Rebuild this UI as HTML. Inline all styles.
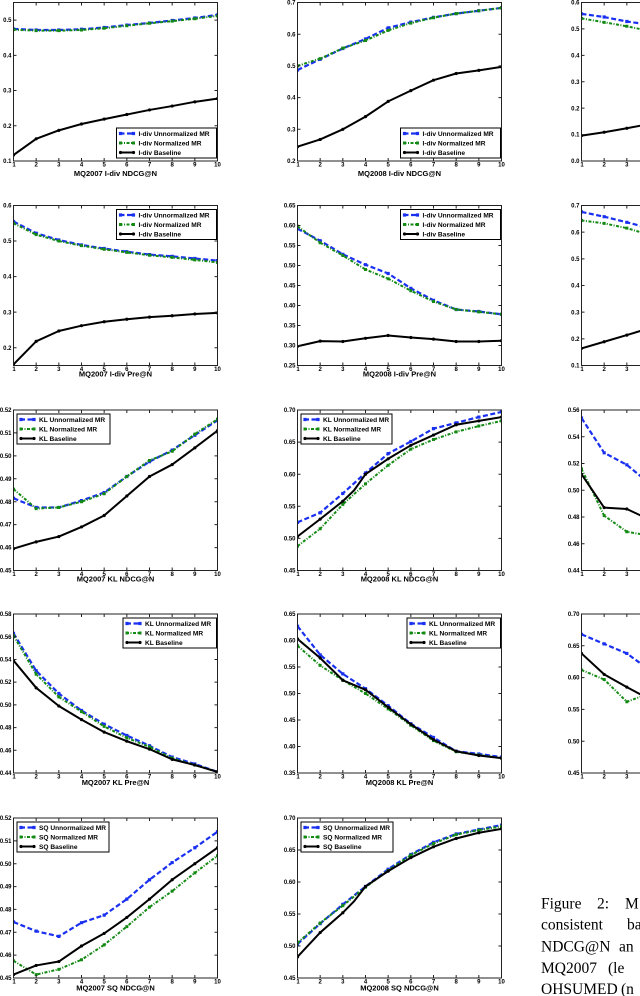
<!DOCTYPE html>
<html><head><meta charset="utf-8">
<style>
html,body{margin:0;padding:0;background:#fff;}
svg{display:block;}
.fr{fill:none;stroke:#222;stroke-width:1}
.tk line{stroke:#222;stroke-width:3}
.b,.g,.k,.bm,.gm,.km{fill:none;vector-effect:non-scaling-stroke}
.b{stroke:#1a30f0;stroke-width:2.2;stroke-dasharray:5 2.5}
.g{stroke:#138a13;stroke-width:2;stroke-dasharray:3 1.5 1 1.5}
.k{stroke:#000;stroke-width:2;stroke-linejoin:round}
.bm{stroke:#1a30f0;stroke-width:3.2;stroke-linecap:square}
.gm{stroke:#138a13;stroke-width:3;stroke-linecap:square}
.km{stroke:#000;stroke-width:3.2;stroke-linecap:round}
.lb{fill:#fff;stroke:#000;stroke-width:1}
text{font-family:"Liberation Sans",sans-serif;font-weight:bold;fill:#000}
.yl{font-size:6px;text-anchor:end}
.xl{font-size:6px;text-anchor:middle}
.al{font-size:7.5px;text-anchor:middle}
.lg{font-size:6.6px}
.cap{font-family:"Liberation Serif",serif;font-weight:normal;font-size:15.5px}
</style></head>
<body>
<svg width="640" height="996" viewBox="0 0 640 996" xmlns="http://www.w3.org/2000/svg">

<!-- ============ Chart A r1c1 ============ -->
<svg x="13.5" y="2.5" width="204" height="158.5" viewBox="1 -0.55 9 0.45" preserveAspectRatio="none">
<polyline class="b" points="1,-.475 2,-.472 3,-.472 4,-.474 5,-.479 6,-.486 7,-.492 8,-.499 9,-.506 10,-.515"/>
<path class="bm" d="M1 -.475h0M2 -.472h0M3 -.472h0M4 -.474h0M5 -.479h0M6 -.486h0M7 -.492h0M8 -.499h0M9 -.506h0M10 -.515h0"/>
<polyline class="g" points="1,-.473 2,-.470 3,-.470 4,-.472 5,-.477 6,-.484 7,-.491 8,-.497 9,-.504 10,-.512"/>
<path class="gm" d="M1 -.473h0M2 -.470h0M3 -.470h0M4 -.472h0M5 -.477h0M6 -.484h0M7 -.491h0M8 -.497h0M9 -.504h0M10 -.512h0"/>
<polyline class="k" points="1,-.117 2,-.163 3,-.187 4,-.205 5,-.219 6,-.232 7,-.245 8,-.256 9,-.268 10,-.277"/>
<path class="km" d="M1 -.117h0M2 -.163h0M3 -.187h0M4 -.205h0M5 -.219h0M6 -.232h0M7 -.245h0M8 -.256h0M9 -.268h0M10 -.277h0"/>
</svg>
<rect class="fr" x="13.5" y="2.5" width="204" height="158.5"/>
<g class="tk">
<line x1="13" y1="159.5" x2="218" y2="159.5" stroke-dasharray="1 21.667"/>
<line x1="13" y1="4" x2="218" y2="4" stroke-dasharray="1 21.667"/>
<line x1="15" y1="161.5" x2="15" y2="2" stroke-dasharray="1 34.22"/>
<line x1="216" y1="161.5" x2="216" y2="2" stroke-dasharray="1 34.22"/>
</g>
<text class="yl" x="11.5" y="163.1">0.1</text>
<text class="yl" x="11.5" y="127.9">0.2</text>
<text class="yl" x="11.5" y="92.7">0.3</text>
<text class="yl" x="11.5" y="57.4">0.4</text>
<text class="yl" x="11.5" y="22.2">0.5</text>
<g class="xl">
<text x="14" y="166.5">1</text><text x="36.2" y="166.5">2</text><text x="58.8" y="166.5">3</text><text x="81.5" y="166.5">4</text><text x="104.2" y="166.5">5</text><text x="126.8" y="166.5">6</text><text x="149.5" y="166.5">7</text><text x="172.2" y="166.5">8</text><text x="194.8" y="166.5">9</text><text x="217.5" y="166.5">10</text>
</g>
<text class="al" x="115.5" y="176">MQ2007 I-div NDCG@N</text>
<rect class="lb" x="116.5" y="128" width="100" height="30"/>
<line class="b" x1="119.5" y1="133.5" x2="134.5" y2="133.5"/><path class="bm" d="M120.5 133.5h0M133.5 133.5h0"/>
<line class="g" x1="119.5" y1="143" x2="134.5" y2="143"/><path class="gm" d="M120.5 143h0M133.5 143h0"/>
<line class="k" x1="119.5" y1="152.5" x2="134.5" y2="152.5"/><path class="km" d="M120.5 152.5h0M133.5 152.5h0"/>
<text class="lg" x="138.5" y="135.8">I-div Unnormalized MR</text>
<text class="lg" x="138.5" y="145.3">I-div Normalized MR</text>
<text class="lg" x="138.5" y="154.8">I-div Baseline</text>

<!-- ============ Chart B r1c2 ============ -->
<svg x="297.5" y="2.5" width="204" height="158.5" viewBox="1 -0.7 9 0.5" preserveAspectRatio="none">
<polyline class="b" points="1,-.487 2,-.521 3,-.555 4,-.585 5,-.620 6,-.638 7,-.653 8,-.665 9,-.674 10,-.683"/>
<path class="bm" d="M1 -.487h0M2 -.521h0M3 -.555h0M4 -.585h0M5 -.620h0M6 -.638h0M7 -.653h0M8 -.665h0M9 -.674h0M10 -.683h0"/>
<polyline class="g" points="1,-.500 2,-.523 3,-.556 4,-.580 5,-.612 6,-.635 7,-.652 8,-.665 9,-.674 10,-.683"/>
<path class="gm" d="M1 -.500h0M2 -.523h0M3 -.556h0M4 -.580h0M5 -.612h0M6 -.635h0M7 -.652h0M8 -.665h0M9 -.674h0M10 -.683h0"/>
<polyline class="k" points="1,-.245 2,-.268 3,-.300 4,-.340 5,-.388 6,-.422 7,-.455 8,-.476 9,-.486 10,-.497"/>
<path class="km" d="M1 -.245h0M2 -.268h0M3 -.300h0M4 -.340h0M5 -.388h0M6 -.422h0M7 -.455h0M8 -.476h0M9 -.486h0M10 -.497h0"/>
</svg>
<rect class="fr" x="297.5" y="2.5" width="204" height="158.5"/>
<g class="tk">
<line x1="297" y1="159.5" x2="502" y2="159.5" stroke-dasharray="1 21.667"/>
<line x1="297" y1="4" x2="502" y2="4" stroke-dasharray="1 21.667"/>
<line x1="299" y1="161.5" x2="299" y2="2" stroke-dasharray="1 30.7"/>
<line x1="500" y1="161.5" x2="500" y2="2" stroke-dasharray="1 30.7"/>
</g>
<text class="yl" x="295.5" y="163.1">0.2</text>
<text class="yl" x="295.5" y="131.4">0.3</text>
<text class="yl" x="295.5" y="99.7">0.4</text>
<text class="yl" x="295.5" y="68">0.5</text>
<text class="yl" x="295.5" y="36.3">0.6</text>
<text class="yl" x="295.5" y="4.6">0.7</text>
<g class="xl">
<text x="298" y="166.5">1</text><text x="320.2" y="166.5">2</text><text x="342.8" y="166.5">3</text><text x="365.5" y="166.5">4</text><text x="388.2" y="166.5">5</text><text x="410.8" y="166.5">6</text><text x="433.5" y="166.5">7</text><text x="456.2" y="166.5">8</text><text x="478.8" y="166.5">9</text><text x="501.5" y="166.5">10</text>
</g>
<text class="al" x="399.5" y="176">MQ2008 I-div NDCG@N</text>
<rect class="lb" x="400.5" y="128" width="100" height="30"/>
<line class="b" x1="403.5" y1="133.5" x2="418.5" y2="133.5"/><path class="bm" d="M404.5 133.5h0M417.5 133.5h0"/>
<line class="g" x1="403.5" y1="143" x2="418.5" y2="143"/><path class="gm" d="M404.5 143h0M417.5 143h0"/>
<line class="k" x1="403.5" y1="152.5" x2="418.5" y2="152.5"/><path class="km" d="M404.5 152.5h0M417.5 152.5h0"/>
<text class="lg" x="422.5" y="135.8">I-div Unnormalized MR</text>
<text class="lg" x="422.5" y="145.3">I-div Normalized MR</text>
<text class="lg" x="422.5" y="154.8">I-div Baseline</text>

<!-- ============ Chart C r1c3 ============ -->
<svg x="581.5" y="2.5" width="204" height="158.5" viewBox="1 -0.6 9 0.6" preserveAspectRatio="none">
<polyline class="b" points="1,-.557 2,-.545 3,-.528 4,-.516 5,-.505"/>
<path class="bm" d="M1 -.557h0M2 -.545h0M3 -.528h0M4 -.516h0M5 -.505h0"/>
<polyline class="g" points="1,-.540 2,-.525 3,-.510 4,-.492 5,-.48"/>
<path class="gm" d="M1 -.540h0M2 -.525h0M3 -.510h0M4 -.492h0M5 -.48h0"/>
<polyline class="k" points="1,-.096 2,-.109 3,-.124 4,-.14 5,-.152"/>
<path class="km" d="M1 -.096h0M2 -.109h0M3 -.124h0M4 -.14h0M5 -.152h0"/>
</svg>
<rect class="fr" x="581.5" y="2.5" width="204" height="158.5"/>
<g class="tk">
<line x1="581" y1="159.5" x2="786" y2="159.5" stroke-dasharray="1 21.667"/>
<line x1="581" y1="4" x2="786" y2="4" stroke-dasharray="1 21.667"/>
<line x1="583" y1="161.5" x2="583" y2="2" stroke-dasharray="1 25.42"/>
</g>
<text class="yl" x="579.5" y="163.1">0.0</text>
<text class="yl" x="579.5" y="136.7">0.1</text>
<text class="yl" x="579.5" y="110.3">0.2</text>
<text class="yl" x="579.5" y="83.9">0.3</text>
<text class="yl" x="579.5" y="57.4">0.4</text>
<text class="yl" x="579.5" y="31">0.5</text>
<text class="yl" x="579.5" y="4.6">0.6</text>
<g class="xl"><text x="582" y="166.5">1</text><text x="604.2" y="166.5">2</text><text x="626.8" y="166.5">3</text></g>

<!-- ============ Chart D r2c1 ============ -->
<svg x="13.5" y="205.5" width="204" height="160" viewBox="1 -0.6 9 0.45" preserveAspectRatio="none">
<polyline class="b" points="1,-.555 2,-.522 3,-.503 4,-.489 5,-.479 6,-.470 7,-.462 8,-.457 9,-.451 10,-.445"/>
<path class="bm" d="M1 -.555h0M2 -.522h0M3 -.503h0M4 -.489h0M5 -.479h0M6 -.470h0M7 -.462h0M8 -.457h0M9 -.451h0M10 -.445h0"/>
<polyline class="g" points="1,-.550 2,-.518 3,-.500 4,-.487 5,-.477 6,-.468 7,-.460 8,-.454 9,-.447 10,-.440"/>
<path class="gm" d="M1 -.550h0M2 -.518h0M3 -.500h0M4 -.487h0M5 -.477h0M6 -.468h0M7 -.460h0M8 -.454h0M9 -.447h0M10 -.440h0"/>
<polyline class="k" points="1,-.153 2,-.218 3,-.247 4,-.262 5,-.273 6,-.280 7,-.286 8,-.290 9,-.295 10,-.298"/>
<path class="km" d="M1 -.153h0M2 -.218h0M3 -.247h0M4 -.262h0M5 -.273h0M6 -.280h0M7 -.286h0M8 -.290h0M9 -.295h0M10 -.298h0"/>
</svg>
<rect class="fr" x="13.5" y="205.5" width="204" height="160"/>
<g class="tk">
<line x1="13" y1="364" x2="218" y2="364" stroke-dasharray="1 21.667"/>
<line x1="13" y1="207" x2="218" y2="207" stroke-dasharray="1 21.667"/>
<line x1="15" y1="205" x2="15" y2="366" stroke-dasharray="1 34.56"/>
<line x1="216" y1="205" x2="216" y2="366" stroke-dasharray="1 34.56"/>
</g>
<text class="yl" x="11.5" y="207.6">0.6</text>
<text class="yl" x="11.5" y="243.2">0.5</text>
<text class="yl" x="11.5" y="278.7">0.4</text>
<text class="yl" x="11.5" y="314.3">0.3</text>
<text class="yl" x="11.5" y="349.8">0.2</text>
<g class="xl">
<text x="14" y="371">1</text><text x="36.2" y="371">2</text><text x="58.8" y="371">3</text><text x="81.5" y="371">4</text><text x="104.2" y="371">5</text><text x="126.8" y="371">6</text><text x="149.5" y="371">7</text><text x="172.2" y="371">8</text><text x="194.8" y="371">9</text><text x="217.5" y="371">10</text>
</g>
<text class="al" x="115.5" y="376.7">MQ2007 I-div Pre@N</text>
<rect class="lb" x="116.5" y="209.5" width="100" height="30"/>
<line class="b" x1="119.5" y1="215" x2="134.5" y2="215"/><path class="bm" d="M120.5 215h0M133.5 215h0"/>
<line class="g" x1="119.5" y1="224.5" x2="134.5" y2="224.5"/><path class="gm" d="M120.5 224.5h0M133.5 224.5h0"/>
<line class="k" x1="119.5" y1="234" x2="134.5" y2="234"/><path class="km" d="M120.5 234h0M133.5 234h0"/>
<text class="lg" x="138.5" y="217.3">I-div Unnormalized MR</text>
<text class="lg" x="138.5" y="226.8">I-div Normalized MR</text>
<text class="lg" x="138.5" y="236.3">I-div Baseline</text>

<!-- ============ Chart E r2c2 ============ -->
<svg x="297.5" y="205.5" width="204" height="160" viewBox="1 -0.65 9 0.4" preserveAspectRatio="none">
<polyline class="b" points="1,-.592 2,-.562 3,-.528 4,-.502 5,-.480 6,-.443 7,-.413 8,-.390 9,-.385 10,-.378"/>
<path class="bm" d="M1 -.592h0M2 -.562h0M3 -.528h0M4 -.502h0M5 -.480h0M6 -.443h0M7 -.413h0M8 -.390h0M9 -.385h0M10 -.378h0"/>
<polyline class="g" points="1,-.598 2,-.557 3,-.525 4,-.490 5,-.467 6,-.437 7,-.410 8,-.390 9,-.384 10,-.378"/>
<path class="gm" d="M1 -.598h0M2 -.557h0M3 -.525h0M4 -.490h0M5 -.467h0M6 -.437h0M7 -.410h0M8 -.390h0M9 -.384h0M10 -.378h0"/>
<polyline class="k" points="1,-.298 2,-.311 3,-.310 4,-.318 5,-.325 6,-.320 7,-.316 8,-.310 9,-.310 10,-.312"/>
<path class="km" d="M1 -.298h0M2 -.311h0M3 -.310h0M4 -.318h0M5 -.325h0M6 -.320h0M7 -.316h0M8 -.310h0M9 -.310h0M10 -.312h0"/>
</svg>
<rect class="fr" x="297.5" y="205.5" width="204" height="160"/>
<g class="tk">
<line x1="297" y1="364" x2="502" y2="364" stroke-dasharray="1 21.667"/>
<line x1="297" y1="207" x2="502" y2="207" stroke-dasharray="1 21.667"/>
<line x1="299" y1="205" x2="299" y2="366" stroke-dasharray="1 19"/>
<line x1="500" y1="205" x2="500" y2="366" stroke-dasharray="1 19"/>
</g>
<text class="yl" x="295.5" y="207.6">0.65</text>
<text class="yl" x="295.5" y="227.6">0.60</text>
<text class="yl" x="295.5" y="247.6">0.55</text>
<text class="yl" x="295.5" y="267.6">0.50</text>
<text class="yl" x="295.5" y="287.6">0.45</text>
<text class="yl" x="295.5" y="307.6">0.40</text>
<text class="yl" x="295.5" y="327.6">0.35</text>
<text class="yl" x="295.5" y="347.6">0.30</text>
<text class="yl" x="295.5" y="367.6">0.25</text>
<g class="xl">
<text x="298" y="371">1</text><text x="320.2" y="371">2</text><text x="342.8" y="371">3</text><text x="365.5" y="371">4</text><text x="388.2" y="371">5</text><text x="410.8" y="371">6</text><text x="433.5" y="371">7</text><text x="456.2" y="371">8</text><text x="478.8" y="371">9</text><text x="501.5" y="371">10</text>
</g>
<text class="al" x="399.5" y="376.7">MQ2008 I-div Pre@N</text>
<rect class="lb" x="400.5" y="209.5" width="100" height="30"/>
<line class="b" x1="403.5" y1="215" x2="418.5" y2="215"/><path class="bm" d="M404.5 215h0M417.5 215h0"/>
<line class="g" x1="403.5" y1="224.5" x2="418.5" y2="224.5"/><path class="gm" d="M404.5 224.5h0M417.5 224.5h0"/>
<line class="k" x1="403.5" y1="234" x2="418.5" y2="234"/><path class="km" d="M404.5 234h0M417.5 234h0"/>
<text class="lg" x="422.5" y="217.3">I-div Unnormalized MR</text>
<text class="lg" x="422.5" y="226.8">I-div Normalized MR</text>
<text class="lg" x="422.5" y="236.3">I-div Baseline</text>

<!-- ============ Chart F r2c3 ============ -->
<svg x="581.5" y="205.5" width="204" height="160" viewBox="1 -0.7 9 0.6" preserveAspectRatio="none">
<polyline class="b" points="1,-.676 2,-.658 3,-.637 4,-.615 5,-.60"/>
<path class="bm" d="M1 -.676h0M2 -.658h0M3 -.637h0M4 -.615h0M5 -.60h0"/>
<polyline class="g" points="1,-.644 2,-.633 3,-.615 4,-.59 5,-.57"/>
<path class="gm" d="M1 -.644h0M2 -.633h0M3 -.615h0M4 -.59h0M5 -.57h0"/>
<polyline class="k" points="1,-.164 2,-.189 3,-.214 4,-.24 5,-.26"/>
<path class="km" d="M1 -.164h0M2 -.189h0M3 -.214h0M4 -.24h0M5 -.26h0"/>
</svg>
<rect class="fr" x="581.5" y="205.5" width="204" height="160"/>
<g class="tk">
<line x1="581" y1="364" x2="786" y2="364" stroke-dasharray="1 21.667"/>
<line x1="581" y1="207" x2="786" y2="207" stroke-dasharray="1 21.667"/>
<line x1="583" y1="205" x2="583" y2="366" stroke-dasharray="1 25.67"/>
</g>
<text class="yl" x="579.5" y="207.6">0.7</text>
<text class="yl" x="579.5" y="234.3">0.6</text>
<text class="yl" x="579.5" y="260.9">0.5</text>
<text class="yl" x="579.5" y="287.6">0.4</text>
<text class="yl" x="579.5" y="314.3">0.3</text>
<text class="yl" x="579.5" y="340.9">0.2</text>
<text class="yl" x="579.5" y="367.6">0.1</text>
<g class="xl"><text x="582" y="371">1</text><text x="604.2" y="371">2</text><text x="626.8" y="371">3</text></g>

<!-- ============ Chart G r3c1 ============ -->
<svg x="13.5" y="410" width="204" height="160.5" viewBox="1 -0.52 9 0.07" preserveAspectRatio="none">
<polyline class="b" points="1,-.4815 2,-.4775 3,-.4775 4,-.4805 5,-.4840 6,-.4910 7,-.4975 8,-.5025 9,-.5090 10,-.5155"/>
<path class="bm" d="M1 -.4815h0M2 -.4775h0M3 -.4775h0M4 -.4805h0M5 -.4840h0M6 -.4910h0M7 -.4975h0M8 -.5025h0M9 -.5090h0M10 -.5155h0"/>
<polyline class="g" points="1,-.4855 2,-.4770 3,-.4775 4,-.4800 5,-.4835 6,-.4910 7,-.4980 8,-.5020 9,-.5095 10,-.5160"/>
<path class="gm" d="M1 -.4855h0M2 -.4770h0M3 -.4775h0M4 -.4800h0M5 -.4835h0M6 -.4910h0M7 -.4980h0M8 -.5020h0M9 -.5095h0M10 -.5160h0"/>
<polyline class="k" points="1,-.4595 2,-.4625 3,-.4648 4,-.4690 5,-.4740 6,-.4825 7,-.4910 8,-.4962 9,-.5035 10,-.5110"/>
<path class="km" d="M1 -.4595h0M2 -.4625h0M3 -.4648h0M4 -.4690h0M5 -.4740h0M6 -.4825h0M7 -.4910h0M8 -.4962h0M9 -.5035h0M10 -.5110h0"/>
</svg>
<rect class="fr" x="13.5" y="410" width="204" height="160.5"/>
<g class="tk">
<line x1="13" y1="569" x2="218" y2="569" stroke-dasharray="1 21.667"/>
<line x1="13" y1="411.5" x2="218" y2="411.5" stroke-dasharray="1 21.667"/>
<line x1="15" y1="571" x2="15" y2="409.5" stroke-dasharray="1 21.93"/>
<line x1="216" y1="571" x2="216" y2="409.5" stroke-dasharray="1 21.93"/>
</g>
<text class="yl" x="11.5" y="412.1">0.52</text>
<text class="yl" x="11.5" y="435">0.51</text>
<text class="yl" x="11.5" y="458">0.50</text>
<text class="yl" x="11.5" y="480.9">0.49</text>
<text class="yl" x="11.5" y="503.8">0.48</text>
<text class="yl" x="11.5" y="526.7">0.47</text>
<text class="yl" x="11.5" y="549.7">0.46</text>
<text class="yl" x="11.5" y="572.6">0.45</text>
<g class="xl">
<text x="14" y="576">1</text><text x="36.2" y="576">2</text><text x="58.8" y="576">3</text><text x="81.5" y="576">4</text><text x="104.2" y="576">5</text><text x="126.8" y="576">6</text><text x="149.5" y="576">7</text><text x="172.2" y="576">8</text><text x="194.8" y="576">9</text><text x="217.5" y="576">10</text>
</g>
<text class="al" x="115.5" y="581.7">MQ2007 KL NDCG@N</text>
<rect class="lb" x="17" y="414" width="93" height="30"/>
<line class="b" x1="20" y1="419.5" x2="35" y2="419.5"/><path class="bm" d="M21 419.5h0M34 419.5h0"/>
<line class="g" x1="20" y1="429" x2="35" y2="429"/><path class="gm" d="M21 429h0M34 429h0"/>
<line class="k" x1="20" y1="438.5" x2="35" y2="438.5"/><path class="km" d="M21 438.5h0M34 438.5h0"/>
<text class="lg" x="39" y="421.8">KL Unnormalized MR</text>
<text class="lg" x="39" y="431.3">KL Normalized MR</text>
<text class="lg" x="39" y="440.8">KL Baseline</text>

<!-- ============ Chart H r3c2 ============ -->
<svg x="297.5" y="410" width="204" height="160.5" viewBox="1 -0.7 9 0.25" preserveAspectRatio="none">
<polyline class="b" points="1,-.525 2,-.540 3,-.570 4,-.602 5,-.632 6,-.651 7,-.671 8,-.680 9,-.689 10,-.697"/>
<path class="bm" d="M1 -.525h0M2 -.540h0M3 -.570h0M4 -.602h0M5 -.632h0M6 -.651h0M7 -.671h0M8 -.680h0M9 -.689h0M10 -.697h0"/>
<polyline class="g" points="1,-.488 2,-.515 3,-.553 4,-.585 5,-.614 6,-.639 7,-.654 8,-.666 9,-.675 10,-.683"/>
<path class="gm" d="M1 -.488h0M2 -.515h0M3 -.553h0M4 -.585h0M5 -.614h0M6 -.639h0M7 -.654h0M8 -.666h0M9 -.675h0M10 -.683h0"/>
<polyline class="k" points="1,-.503 2,-.530 3,-.558 3.5,-.575 4,-.600 5,-.624 6,-.645 7,-.661 8,-.677 9,-.683 10,-.689"/>
<path class="km" d="M1 -.503h0M2 -.530h0M3 -.558h0M4 -.600h0M5 -.624h0M6 -.645h0M7 -.661h0M8 -.677h0M9 -.683h0M10 -.689h0"/>
</svg>
<rect class="fr" x="297.5" y="410" width="204" height="160.5"/>
<g class="tk">
<line x1="297" y1="569" x2="502" y2="569" stroke-dasharray="1 21.667"/>
<line x1="297" y1="411.5" x2="502" y2="411.5" stroke-dasharray="1 21.667"/>
<line x1="299" y1="571" x2="299" y2="409.5" stroke-dasharray="1 31.1"/>
<line x1="500" y1="571" x2="500" y2="409.5" stroke-dasharray="1 31.1"/>
</g>
<text class="yl" x="295.5" y="412.1">0.70</text>
<text class="yl" x="295.5" y="444.2">0.65</text>
<text class="yl" x="295.5" y="476.3">0.60</text>
<text class="yl" x="295.5" y="508.4">0.55</text>
<text class="yl" x="295.5" y="540.5">0.50</text>
<text class="yl" x="295.5" y="572.6">0.45</text>
<g class="xl">
<text x="298" y="576">1</text><text x="320.2" y="576">2</text><text x="342.8" y="576">3</text><text x="365.5" y="576">4</text><text x="388.2" y="576">5</text><text x="410.8" y="576">6</text><text x="433.5" y="576">7</text><text x="456.2" y="576">8</text><text x="478.8" y="576">9</text><text x="501.5" y="576">10</text>
</g>
<text class="al" x="399.5" y="581.7">MQ2008 KL NDCG@N</text>
<rect class="lb" x="301" y="414" width="91" height="30"/>
<line class="b" x1="304" y1="419.5" x2="319" y2="419.5"/><path class="bm" d="M305 419.5h0M318 419.5h0"/>
<line class="g" x1="304" y1="429" x2="319" y2="429"/><path class="gm" d="M305 429h0M318 429h0"/>
<line class="k" x1="304" y1="438.5" x2="319" y2="438.5"/><path class="km" d="M305 438.5h0M318 438.5h0"/>
<text class="lg" x="323" y="421.8">KL Unnormalized MR</text>
<text class="lg" x="323" y="431.3">KL Normalized MR</text>
<text class="lg" x="323" y="440.8">KL Baseline</text>

<!-- ============ Chart I r3c3 ============ -->
<svg x="581.5" y="410" width="204" height="160.5" viewBox="1 -0.56 9 0.12" preserveAspectRatio="none">
<polyline class="b" points="1,-.554 2,-.528 3,-.519 4,-.505 5,-.49"/>
<path class="bm" d="M1 -.554h0M2 -.528h0M3 -.519h0M4 -.505h0M5 -.49h0"/>
<polyline class="g" points="1,-.516 2,-.481 3,-.469 4,-.466 5,-.46"/>
<path class="gm" d="M1 -.516h0M2 -.481h0M3 -.469h0M4 -.466h0M5 -.46h0"/>
<polyline class="k" points="1,-.512 2,-.487 3,-.486 4,-.478 5,-.47"/>
<path class="km" d="M1 -.512h0M2 -.487h0M3 -.486h0M4 -.478h0M5 -.47h0"/>
</svg>
<rect class="fr" x="581.5" y="410" width="204" height="160.5"/>
<g class="tk">
<line x1="581" y1="569" x2="786" y2="569" stroke-dasharray="1 21.667"/>
<line x1="581" y1="411.5" x2="786" y2="411.5" stroke-dasharray="1 21.667"/>
<line x1="583" y1="571" x2="583" y2="409.5" stroke-dasharray="1 25.75"/>
</g>
<text class="yl" x="579.5" y="412.1">0.56</text>
<text class="yl" x="579.5" y="438.9">0.54</text>
<text class="yl" x="579.5" y="465.6">0.52</text>
<text class="yl" x="579.5" y="492.4">0.50</text>
<text class="yl" x="579.5" y="519.1">0.48</text>
<text class="yl" x="579.5" y="545.9">0.46</text>
<text class="yl" x="579.5" y="572.6">0.44</text>
<g class="xl"><text x="582" y="576">1</text><text x="604.2" y="576">2</text><text x="626.8" y="576">3</text></g>

<!-- ============ Chart J r4c1 ============ -->
<svg x="13.5" y="614" width="204" height="159" viewBox="1 -0.58 9 0.14" preserveAspectRatio="none">
<polyline class="b" points="1,-.563 2,-.530 3,-.510 4,-.495 5,-.483 6,-.473 7,-.464 8,-.454 9,-.448 10,-.441"/>
<path class="bm" d="M1 -.563h0M2 -.530h0M3 -.510h0M4 -.495h0M5 -.483h0M6 -.473h0M7 -.464h0M8 -.454h0M9 -.448h0M10 -.441h0"/>
<polyline class="g" points="1,-.561 2,-.527 3,-.507 4,-.494 5,-.481 6,-.471 7,-.463 8,-.453 9,-.447 10,-.441"/>
<path class="gm" d="M1 -.561h0M2 -.527h0M3 -.507h0M4 -.494h0M5 -.481h0M6 -.471h0M7 -.463h0M8 -.453h0M9 -.447h0M10 -.441h0"/>
<polyline class="k" points="1,-.539 2,-.515 3,-.499 4,-.487 5,-.476 6,-.468 7,-.461 8,-.452 9,-.447 10,-.441"/>
<path class="km" d="M1 -.539h0M2 -.515h0M3 -.499h0M4 -.487h0M5 -.476h0M6 -.468h0M7 -.461h0M8 -.452h0M9 -.447h0M10 -.441h0"/>
</svg>
<rect class="fr" x="13.5" y="614" width="204" height="159"/>
<g class="tk">
<line x1="13" y1="771.5" x2="218" y2="771.5" stroke-dasharray="1 21.667"/>
<line x1="13" y1="615.5" x2="218" y2="615.5" stroke-dasharray="1 21.667"/>
<line x1="15" y1="773.5" x2="15" y2="613.5" stroke-dasharray="1 21.71"/>
<line x1="216" y1="773.5" x2="216" y2="613.5" stroke-dasharray="1 21.71"/>
</g>
<text class="yl" x="11.5" y="616.1">0.58</text>
<text class="yl" x="11.5" y="638.8">0.56</text>
<text class="yl" x="11.5" y="661.5">0.54</text>
<text class="yl" x="11.5" y="684.2">0.52</text>
<text class="yl" x="11.5" y="707">0.50</text>
<text class="yl" x="11.5" y="729.7">0.48</text>
<text class="yl" x="11.5" y="752.4">0.46</text>
<text class="yl" x="11.5" y="775.1">0.44</text>
<g class="xl">
<text x="14" y="778.5">1</text><text x="36.2" y="778.5">2</text><text x="58.8" y="778.5">3</text><text x="81.5" y="778.5">4</text><text x="104.2" y="778.5">5</text><text x="126.8" y="778.5">6</text><text x="149.5" y="778.5">7</text><text x="172.2" y="778.5">8</text><text x="194.8" y="778.5">9</text><text x="217.5" y="778.5">10</text>
</g>
<text class="al" x="115.5" y="784.8">MQ2007 KL Pre@N</text>
<rect class="lb" x="123" y="618" width="93.5" height="30"/>
<line class="b" x1="126" y1="623.5" x2="141" y2="623.5"/><path class="bm" d="M127 623.5h0M140 623.5h0"/>
<line class="g" x1="126" y1="633" x2="141" y2="633"/><path class="gm" d="M127 633h0M140 633h0"/>
<line class="k" x1="126" y1="642.5" x2="141" y2="642.5"/><path class="km" d="M127 642.5h0M140 642.5h0"/>
<text class="lg" x="145" y="625.8">KL Unnormalized MR</text>
<text class="lg" x="145" y="635.3">KL Normalized MR</text>
<text class="lg" x="145" y="644.8">KL Baseline</text>

<!-- ============ Chart K r4c2 ============ -->
<svg x="297.5" y="614" width="204" height="159" viewBox="1 -0.65 9 0.3" preserveAspectRatio="none">
<polyline class="b" points="1,-.627 2,-.573 3,-.537 4,-.509 5,-.477 6,-.443 7,-.417 8,-.391 9,-.386 10,-.380"/>
<path class="bm" d="M1 -.627h0M2 -.573h0M3 -.537h0M4 -.509h0M5 -.477h0M6 -.443h0M7 -.417h0M8 -.391h0M9 -.386h0M10 -.380h0"/>
<polyline class="g" points="1,-.590 2,-.553 3,-.525 4,-.500 5,-.471 6,-.440 7,-.411 8,-.390 9,-.384 10,-.378"/>
<path class="gm" d="M1 -.590h0M2 -.553h0M3 -.525h0M4 -.500h0M5 -.471h0M6 -.440h0M7 -.411h0M8 -.390h0M9 -.384h0M10 -.378h0"/>
<polyline class="k" points="1,-.603 2,-.567 3,-.525 4,-.507 5,-.474 6,-.442 7,-.413 8,-.391 9,-.383 10,-.378"/>
<path class="km" d="M1 -.603h0M2 -.567h0M3 -.525h0M4 -.507h0M5 -.474h0M6 -.442h0M7 -.413h0M8 -.391h0M9 -.383h0M10 -.378h0"/>
</svg>
<rect class="fr" x="297.5" y="614" width="204" height="159"/>
<g class="tk">
<line x1="297" y1="771.5" x2="502" y2="771.5" stroke-dasharray="1 21.667"/>
<line x1="297" y1="615.5" x2="502" y2="615.5" stroke-dasharray="1 21.667"/>
<line x1="299" y1="773.5" x2="299" y2="613.5" stroke-dasharray="1 25.5"/>
<line x1="500" y1="773.5" x2="500" y2="613.5" stroke-dasharray="1 25.5"/>
</g>
<text class="yl" x="295.5" y="616.1">0.65</text>
<text class="yl" x="295.5" y="642.6">0.60</text>
<text class="yl" x="295.5" y="669.1">0.55</text>
<text class="yl" x="295.5" y="695.6">0.50</text>
<text class="yl" x="295.5" y="722.1">0.45</text>
<text class="yl" x="295.5" y="748.6">0.40</text>
<text class="yl" x="295.5" y="775.1">0.35</text>
<g class="xl">
<text x="298" y="778.5">1</text><text x="320.2" y="778.5">2</text><text x="342.8" y="778.5">3</text><text x="365.5" y="778.5">4</text><text x="388.2" y="778.5">5</text><text x="410.8" y="778.5">6</text><text x="433.5" y="778.5">7</text><text x="456.2" y="778.5">8</text><text x="478.8" y="778.5">9</text><text x="501.5" y="778.5">10</text>
</g>
<text class="al" x="399.5" y="784.8">MQ2008 KL Pre@N</text>
<rect class="lb" x="407" y="618" width="93.5" height="30"/>
<line class="b" x1="410" y1="623.5" x2="425" y2="623.5"/><path class="bm" d="M411 623.5h0M424 623.5h0"/>
<line class="g" x1="410" y1="633" x2="425" y2="633"/><path class="gm" d="M411 633h0M424 633h0"/>
<line class="k" x1="410" y1="642.5" x2="425" y2="642.5"/><path class="km" d="M411 642.5h0M424 642.5h0"/>
<text class="lg" x="429" y="625.8">KL Unnormalized MR</text>
<text class="lg" x="429" y="635.3">KL Normalized MR</text>
<text class="lg" x="429" y="644.8">KL Baseline</text>

<!-- ============ Chart L r4c3 ============ -->
<svg x="581.5" y="614" width="204" height="159" viewBox="1 -0.7 9 0.25" preserveAspectRatio="none">
<polyline class="b" points="1,-.668 2,-.653 3,-.638 4,-.612 5,-.59"/>
<path class="bm" d="M1 -.668h0M2 -.653h0M3 -.638h0M4 -.612h0M5 -.59h0"/>
<polyline class="g" points="1,-.612 2,-.597 3,-.562 4,-.575 5,-.57"/>
<path class="gm" d="M1 -.612h0M2 -.597h0M3 -.562h0M4 -.575h0M5 -.57h0"/>
<polyline class="k" points="1,-.638 2,-.605 3,-.585 4,-.566 5,-.55"/>
<path class="km" d="M1 -.638h0M2 -.605h0M3 -.585h0M4 -.566h0M5 -.55h0"/>
</svg>
<rect class="fr" x="581.5" y="614" width="204" height="159"/>
<g class="tk">
<line x1="581" y1="771.5" x2="786" y2="771.5" stroke-dasharray="1 21.667"/>
<line x1="581" y1="615.5" x2="786" y2="615.5" stroke-dasharray="1 21.667"/>
<line x1="583" y1="773.5" x2="583" y2="613.5" stroke-dasharray="1 30.8"/>
</g>
<text class="yl" x="579.5" y="616.1">0.70</text>
<text class="yl" x="579.5" y="647.9">0.65</text>
<text class="yl" x="579.5" y="679.7">0.60</text>
<text class="yl" x="579.5" y="711.5">0.55</text>
<text class="yl" x="579.5" y="743.3">0.50</text>
<text class="yl" x="579.5" y="775.1">0.45</text>
<g class="xl"><text x="582" y="778.5">1</text><text x="604.2" y="778.5">2</text><text x="626.8" y="778.5">3</text></g>

<!-- ============ Chart M r5c1 ============ -->
<svg x="13.5" y="818" width="204" height="160" viewBox="1 -0.52 9 0.07" preserveAspectRatio="none">
<polyline class="b" points="1,-.4745 2,-.4705 3,-.4682 4,-.4742 5,-.4775 6,-.4845 7,-.4930 8,-.5005 9,-.5070 10,-.5140"/>
<path class="bm" d="M1 -.4745h0M2 -.4705h0M3 -.4682h0M4 -.4742h0M5 -.4775h0M6 -.4845h0M7 -.4930h0M8 -.5005h0M9 -.5070h0M10 -.5140h0"/>
<polyline class="g" points="1,-.4575 2,-.4515 3,-.4538 4,-.4580 5,-.4645 6,-.4725 7,-.4810 8,-.4880 9,-.4960 10,-.5035"/>
<path class="gm" d="M1 -.4575h0M2 -.4515h0M3 -.4538h0M4 -.4580h0M5 -.4645h0M6 -.4725h0M7 -.4810h0M8 -.4880h0M9 -.4960h0M10 -.5035h0"/>
<polyline class="k" points="1,-.4515 2,-.4555 3,-.4572 4,-.4640 5,-.4695 6,-.4765 7,-.4845 8,-.4930 9,-.5000 10,-.5070"/>
<path class="km" d="M1 -.4515h0M2 -.4555h0M3 -.4572h0M4 -.4640h0M5 -.4695h0M6 -.4765h0M7 -.4845h0M8 -.4930h0M9 -.5000h0M10 -.5070h0"/>
</svg>
<rect class="fr" x="13.5" y="818" width="204" height="160"/>
<g class="tk">
<line x1="13" y1="976.5" x2="218" y2="976.5" stroke-dasharray="1 21.667"/>
<line x1="13" y1="819.5" x2="218" y2="819.5" stroke-dasharray="1 21.667"/>
<line x1="15" y1="978.5" x2="15" y2="817.5" stroke-dasharray="1 21.857"/>
<line x1="216" y1="978.5" x2="216" y2="817.5" stroke-dasharray="1 21.857"/>
</g>
<text class="yl" x="11.5" y="820.1">0.52</text>
<text class="yl" x="11.5" y="843">0.51</text>
<text class="yl" x="11.5" y="865.8">0.50</text>
<text class="yl" x="11.5" y="888.7">0.49</text>
<text class="yl" x="11.5" y="911.5">0.48</text>
<text class="yl" x="11.5" y="934.4">0.47</text>
<text class="yl" x="11.5" y="957.2">0.46</text>
<text class="yl" x="11.5" y="980.1">0.45</text>
<g class="xl">
<text x="14" y="983.5">1</text><text x="36.2" y="983.5">2</text><text x="58.8" y="983.5">3</text><text x="81.5" y="983.5">4</text><text x="104.2" y="983.5">5</text><text x="126.8" y="983.5">6</text><text x="149.5" y="983.5">7</text><text x="172.2" y="983.5">8</text><text x="194.8" y="983.5">9</text><text x="217.5" y="983.5">10</text>
</g>
<text class="al" x="115.5" y="990.5">MQ2007 SQ NDCG@N</text>
<rect class="lb" x="17" y="822" width="92" height="30"/>
<line class="b" x1="20" y1="827.5" x2="35" y2="827.5"/><path class="bm" d="M21 827.5h0M34 827.5h0"/>
<line class="g" x1="20" y1="837" x2="35" y2="837"/><path class="gm" d="M21 837h0M34 837h0"/>
<line class="k" x1="20" y1="846.5" x2="35" y2="846.5"/><path class="km" d="M21 846.5h0M34 846.5h0"/>
<text class="lg" x="39" y="829.8">SQ Unnormalized MR</text>
<text class="lg" x="39" y="839.3">SQ Normalized MR</text>
<text class="lg" x="39" y="848.8">SQ Baseline</text>

<!-- ============ Chart N r5c2 ============ -->
<svg x="297.5" y="818" width="204" height="160" viewBox="1 -0.7 9 0.25" preserveAspectRatio="none">
<polyline class="b" points="1,-.503 2,-.535 3,-.565 4,-.593 5,-.620 6,-.643 7,-.662 8,-.675 9,-.682 10,-.689"/>
<path class="bm" d="M1 -.503h0M2 -.535h0M3 -.565h0M4 -.593h0M5 -.620h0M6 -.643h0M7 -.662h0M8 -.675h0M9 -.682h0M10 -.689h0"/>
<polyline class="g" points="1,-.505 2,-.536 3,-.563 4,-.592 5,-.618 6,-.642 7,-.660 8,-.674 9,-.681 10,-.687"/>
<path class="gm" d="M1 -.505h0M2 -.536h0M3 -.563h0M4 -.592h0M5 -.618h0M6 -.642h0M7 -.660h0M8 -.674h0M9 -.681h0M10 -.687h0"/>
<polyline class="k" points="1,-.483 2,-.521 3,-.552 3.5,-.570 4,-.593 5,-.617 6,-.638 7,-.655 8,-.668 9,-.677 10,-.683"/>
<path class="km" d="M1 -.483h0M2 -.521h0M3 -.552h0M4 -.593h0M5 -.617h0M6 -.638h0M7 -.655h0M8 -.668h0M9 -.677h0M10 -.683h0"/>
</svg>
<rect class="fr" x="297.5" y="818" width="204" height="160"/>
<g class="tk">
<line x1="297" y1="976.5" x2="502" y2="976.5" stroke-dasharray="1 21.667"/>
<line x1="297" y1="819.5" x2="502" y2="819.5" stroke-dasharray="1 21.667"/>
<line x1="299" y1="978.5" x2="299" y2="817.5" stroke-dasharray="1 31"/>
<line x1="500" y1="978.5" x2="500" y2="817.5" stroke-dasharray="1 31"/>
</g>
<text class="yl" x="295.5" y="820.1">0.70</text>
<text class="yl" x="295.5" y="852.1">0.65</text>
<text class="yl" x="295.5" y="884.1">0.60</text>
<text class="yl" x="295.5" y="916.1">0.55</text>
<text class="yl" x="295.5" y="948.1">0.50</text>
<text class="yl" x="295.5" y="980.1">0.45</text>
<g class="xl">
<text x="298" y="983.5">1</text><text x="320.2" y="983.5">2</text><text x="342.8" y="983.5">3</text><text x="365.5" y="983.5">4</text><text x="388.2" y="983.5">5</text><text x="410.8" y="983.5">6</text><text x="433.5" y="983.5">7</text><text x="456.2" y="983.5">8</text><text x="478.8" y="983.5">9</text><text x="501.5" y="983.5">10</text>
</g>
<text class="al" x="399.5" y="990.5">MQ2008 SQ NDCG@N</text>
<rect class="lb" x="301" y="822" width="92" height="30"/>
<line class="b" x1="304" y1="827.5" x2="319" y2="827.5"/><path class="bm" d="M305 827.5h0M318 827.5h0"/>
<line class="g" x1="304" y1="837" x2="319" y2="837"/><path class="gm" d="M305 837h0M318 837h0"/>
<line class="k" x1="304" y1="846.5" x2="319" y2="846.5"/><path class="km" d="M305 846.5h0M318 846.5h0"/>
<text class="lg" x="323" y="829.8">SQ Unnormalized MR</text>
<text class="lg" x="323" y="839.3">SQ Normalized MR</text>
<text class="lg" x="323" y="848.8">SQ Baseline</text>

<!-- ============ Caption ============ -->
<g class="cap">
<text class="cap" x="541" y="908.5">Figure</text>
<text class="cap" x="597" y="908.5">2:</text>
<text class="cap" x="625" y="908.5">M</text>
<text class="cap" x="541" y="929.5">consistent</text>
<text class="cap" x="627" y="929.5">ba</text>
<text class="cap" x="541" y="951.5">NDCG@N</text>
<text class="cap" x="619" y="951.5">an</text>
<text class="cap" x="541" y="973">MQ2007</text>
<text class="cap" x="608" y="973">(le</text>
<text class="cap" x="541" y="994">OHSUMED</text>
<text class="cap" x="621" y="994">(n</text>
</g>
</svg>
</body></html>
